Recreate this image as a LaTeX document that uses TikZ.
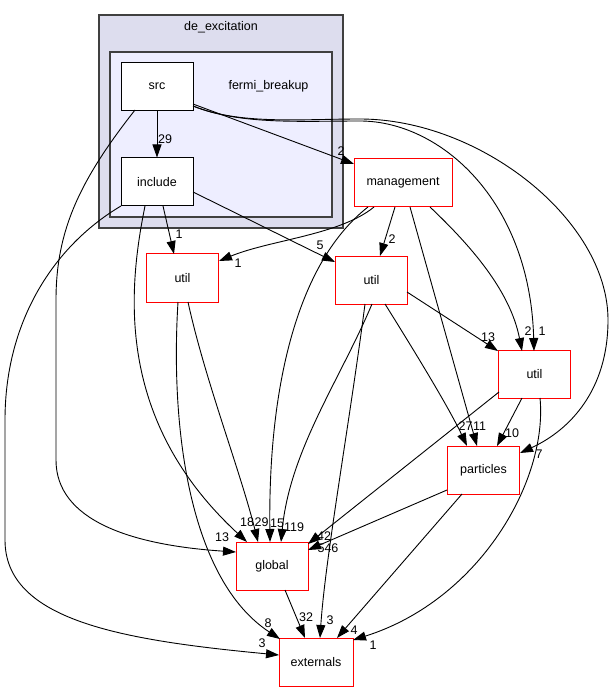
\documentclass[tikz,border=0pt]{standalone}
\usepackage{fontspec}
\setmainfont{Liberation Sans}
\usetikzlibrary{arrows.meta}
\definecolor{outerfill}{HTML}{DDDDEE}
\definecolor{innerfill}{HTML}{EEEEFF}
\definecolor{clborder}{HTML}{404040}
\begin{document}
\begin{tikzpicture}[x=1pt,y=-1pt,
  dnode/.style={draw=red, fill=white, line width=1pt, minimum width=72pt, minimum height=48pt, inner sep=0pt, font=\fontsize{12.5}{14}\selectfont},
  inode/.style={dnode, draw=black},
  dep/.style={-{Triangle[length=13pt,width=9pt]}, line width=0.9pt},
  lbl/.style={font=\fontsize{12.5}{14}\selectfont, inner sep=0pt},
  cluster/.style={draw=clborder, line width=1.2pt}]
\useasboundingbox (0,0) rectangle (611,692);
% clusters
\draw[cluster, fill=outerfill] (99,15) rectangle (343,228);
\node[lbl] (tdeex) at (221,27) {de\_excitation};
\draw[cluster, fill=innerfill] (110,52) rectangle (332,217);
\node[lbl] (tfermi) at (268.5,86) {fermi\_breakup};
% nodes
\node[inode] (src) at (157,86.5) {src};
\node[inode] (include) at (157,182) {include};
\node[dnode, minimum width=98pt] (management) at (403,183) {management};
\node[dnode] (utilL) at (182.5,278) {util};
\node[dnode] (utilM) at (371.5,280) {util};
\node[dnode] (utilR) at (534.5,374.5) {util};
\node[dnode] (particles) at (483.5,470) {particles};
\node[dnode] (global) at (272,566) {global};
\node[dnode, minimum width=74pt] (externals) at (316,662) {externals};
% edges
\draw[dep] (src.south) -- (include.north);
\node[lbl] (l1) at (165,139) {29};
\draw[dep] ([shift={(36,17.5)}]src.center) -- ([shift={(-49,-19)}]management.center);
\node[lbl] (l2) at (341,151) {2};
\draw[dep] ([shift={(36,19.5)}]src.center) .. controls (240,125) and (300,121) .. (360,121) .. controls (440,121) and (530,200) .. ([shift={(-0.5,-23.5)}]utilR.center);
\node[lbl] (l3) at (542,331) {1};
\draw[dep] ([shift={(36,19.5)}]src.center) .. controls (240,125) and (300,119) .. (360,119) .. controls (480,119) and (608,220) .. (608,320) .. controls (608,390) and (570,430) .. ([shift={(36.5,-17)}]particles.center);
\node[lbl] (l4) at (539,454) {7};
\draw[dep] ([shift={(-22,23.5)}]src.center) .. controls (80,180) and (56,230) .. (56,300) -- (56,460) .. controls (56,520) and (130,545) .. ([shift={(-36,-14)}]global.center);
\node[lbl] (l5) at (222,537) {13};
\draw[dep] ([shift={(-36,24)}]include.center) .. controls (55,245) and (5,320) .. (5,420) -- (5,540) .. controls (5,620) and (120,640) .. ([shift={(-37,-7)}]externals.center);
\node[lbl] (l6) at (262,643) {3};
\draw[dep] ([shift={(6,24)}]include.center) -- ([shift={(-8.5,-24)}]utilL.center);
\node[lbl] (l7) at (179,234) {1};
\draw[dep] ([shift={(36,10)}]include.center) .. controls (250,220) and (300,245) .. ([shift={(-36.5,-18)}]utilM.center);
\node[lbl] (l8) at (320,245) {5};
\draw[dep] ([shift={(-12,24)}]include.center) .. controls (128,290) and (115,420) .. ([shift={(-25,-24)}]global.center);
\node[lbl] (l9) at (247,522) {18};
\draw[dep] ([shift={(-29,24)}]management.center) .. controls (340,235) and (270,240) .. ([shift={(36.5,-17)}]utilL.center);
\node[lbl] (l10) at (238,263) {1};
\draw[dep] ([shift={(-8,24)}]management.center) -- ([shift={(8.5,-24)}]utilM.center);
\node[lbl] (l11) at (392,239) {2};
\draw[dep] ([shift={(-35,24)}]management.center) .. controls (300,260) and (268,380) .. ([shift={(-2,-24)}]global.center);
\node[lbl] (l12) at (277,523) {15};
\draw[dep] ([shift={(7,24)}]management.center) -- ([shift={(-6.5,-24)}]particles.center);
\node[lbl] (l13) at (479.5,426) {11};
\draw[dep] ([shift={(27,24)}]management.center) .. controls (470,245) and (510,290) .. ([shift={(-12.5,-23.5)}]utilR.center);
\node[lbl] (l14) at (528,331) {2};
\draw[dep] ([shift={(35.5,12)}]utilM.center) -- ([shift={(-36.5,-23.5)}]utilR.center);
\node[lbl] (l15) at (488,337) {13};
\draw[dep] ([shift={(13.5,24)}]utilM.center) .. controls (420,360) and (450,410) .. ([shift={(-16.5,-24)}]particles.center);
\node[lbl] (l16) at (465.5,426) {27};
\draw[dep] ([shift={(0.5,24)}]utilM.center) .. controls (340,380) and (290,450) .. ([shift={(9,-24)}]global.center);
\node[lbl] (l17) at (294,527) {119};
\draw[dep] ([shift={(-6.5,24)}]utilM.center) .. controls (350,420) and (325,560) .. ([shift={(4,-24)}]externals.center);
\node[lbl] (l18) at (330,620) {3};
\draw[dep] ([shift={(5.5,24)}]utilL.center) .. controls (205,380) and (240,470) .. ([shift={(-14,-24)}]global.center);
\node[lbl] (l19) at (261.5,522) {29};
\draw[dep] ([shift={(-4.5,24)}]utilL.center) .. controls (170,430) and (190,580) .. ([shift={(-36,-23)}]externals.center);
\node[lbl] (l20) at (268,623) {8};
\draw[dep] ([shift={(-12.5,23.5)}]utilR.center) -- ([shift={(13.5,-24)}]particles.center);
\node[lbl] (l21) at (512,433) {10};
\draw[dep] ([shift={(-35.5,17.5)}]utilR.center) -- ([shift={(36,-22)}]global.center);
\node[lbl] (l22) at (324,536) {42};
\draw[dep] ([shift={(5.5,23.5)}]utilR.center) .. controls (548,480) and (480,600) .. ([shift={(37,-22)}]externals.center);
\node[lbl] (l23) at (373,645) {1};
\draw[dep] ([shift={(-36.5,20)}]particles.center) -- ([shift={(36,-16)}]global.center);
\node[lbl] (l24) at (328,548) {546};
\draw[dep] ([shift={(-21.5,24)}]particles.center) -- ([shift={(21,-24)}]externals.center);
\node[lbl] (l25) at (354,630) {4};
\draw[dep] ([shift={(13,24)}]global.center) -- ([shift={(-11,-24)}]externals.center);
\node[lbl] (l26) at (306,617) {32};
\end{tikzpicture}
\end{document}
